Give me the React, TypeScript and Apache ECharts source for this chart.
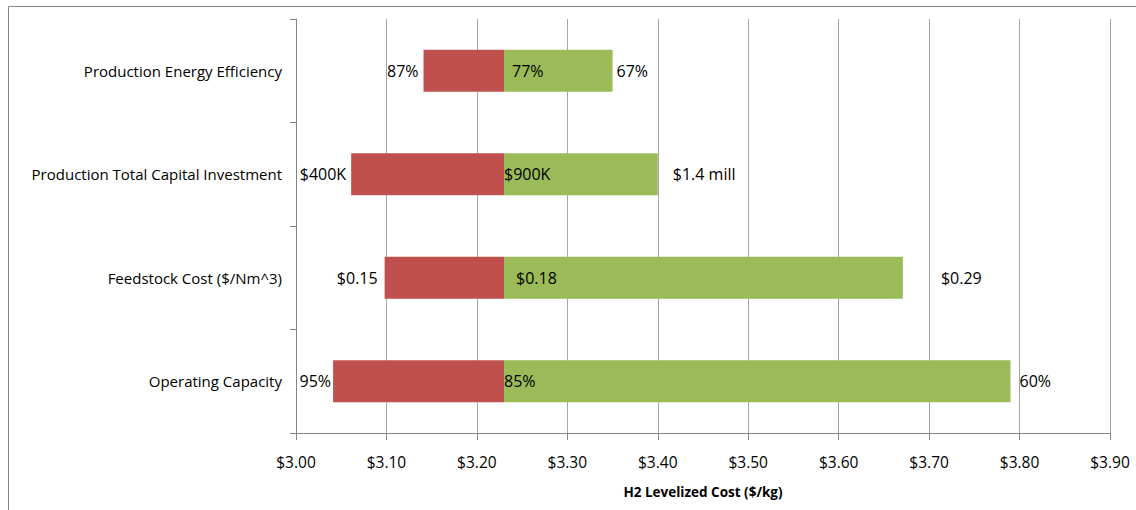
import React, { useEffect, useRef } from "react";
import * as echarts from "echarts";

// Data (bottom to top on the category axis)
const categories = [
  "Operating Capacity",
  "Feedstock Cost ($/Nm^3)",
  "Production Total Capital Investment",
  "Production Energy Efficiency",
];
const baseCost = 3.23;
const lowCost = [3.041, 3.098, 3.061, 3.141];
const highCost = [3.79, 3.671, 3.40, 3.35];
const lowLabels = ["95%", "$0.15", "$400K", "87%"];
const baseLabels = ["85%", "$0.18", "$900K", "77%"];
const highLabels = ["60%", "$0.29", "$1.4 mill", "67%"];
const xTicks = { min: 3.0, max: 3.9, interval: 0.1 };

// Label spacing (styling)
const lowGap = [2, 7, 5, 5];
const baseGap = [0, 12, 0, 8];
const highGap = [9, 38, 15, 4];

const FONT = "'Open Sans', 'Noto Sans', sans-serif";
const RED = "#C0504D";
const GREEN = "#9BBB59";

export default function App() {
  const ref = useRef<HTMLDivElement>(null);
  useEffect(() => {
    document.body.style.margin = "0";
    const chart = echarts.init(ref.current!, undefined, { renderer: "svg" });
    const barLabel = { fontFamily: FONT, fontSize: 16, color: "#000" };
    const option: any = {
      animation: false,
      backgroundColor: "#ffffff",
      textStyle: { fontFamily: FONT },
      grid: { left: 296, right: 26, top: 19, bottom: 77, containLabel: false },
      graphic: [
        {
          type: "rect",
          shape: { x: 8.5, y: 6.5, width: 1300, height: 700 },
          style: { fill: "none", stroke: "#868686", lineWidth: 1 },
          silent: true,
        },
      ],
      xAxis: {
        type: "value",
        min: xTicks.min,
        max: xTicks.max,
        interval: xTicks.interval,
        name: "H2 Levelized Cost ($/kg)",
        nameLocation: "middle",
        nameGap: 52,
        nameTextStyle: { fontFamily: FONT, fontSize: 13.5, fontWeight: "bold", color: "#000" },
        axisLine: { show: true, lineStyle: { color: "#868686", width: 1 } },
        axisTick: { show: true, length: 7, lineStyle: { color: "#868686" } },
        axisLabel: {
          fontFamily: FONT,
          fontSize: 15.5,
          color: "#000",
          margin: 21,
          formatter: (v: number) => "$" + v.toFixed(2),
        },
        splitLine: { show: true, lineStyle: { color: "#a6a6a6", width: 1 } },
      },
      yAxis: {
        type: "category",
        data: categories,
        axisLine: { show: true, lineStyle: { color: "#868686", width: 1 } },
        axisTick: { show: true, length: 6, inside: false, lineStyle: { color: "#868686" } },
        axisLabel: { fontFamily: FONT, fontSize: 15, color: "#000", margin: 14 },
        splitLine: { show: false },
      },
      series: [
        {
          type: "bar",
          stack: "t",
          barWidth: 42,
          itemStyle: { color: "transparent" },
          silent: true,
          data: lowCost,
        },
        {
          type: "bar",
          stack: "t",
          barWidth: 42,
          itemStyle: { color: RED },
          data: lowCost.map((l, i) => ({
            value: baseCost - l,
            label: {
              show: true,
              position: "left",
              distance: lowGap[i],
              formatter: lowLabels[i],
              ...barLabel,
            },
          })),
        },
        {
          type: "bar",
          stack: "t",
          barWidth: 42,
          itemStyle: { color: GREEN },
          data: highCost.map((h, i) => ({
            value: h - baseCost,
            label: {
              show: true,
              position: "insideLeft",
              distance: baseGap[i],
              formatter: baseLabels[i],
              ...barLabel,
            },
          })),
        },
        {
          type: "scatter",
          symbolSize: 0,
          silent: true,
          itemStyle: { opacity: 1 },
          data: highCost.map((h, i) => ({
            value: [h, categories[i]],
            label: {
              show: true,
              position: "right",
              distance: highGap[i],
              formatter: highLabels[i],
              ...barLabel,
            },
          })),
        },
      ],
    };
    chart.setOption(option);
    return () => chart.dispose();
  }, []);
  return <div ref={ref} style={{ width: 1136, height: 510 }} />;
}
